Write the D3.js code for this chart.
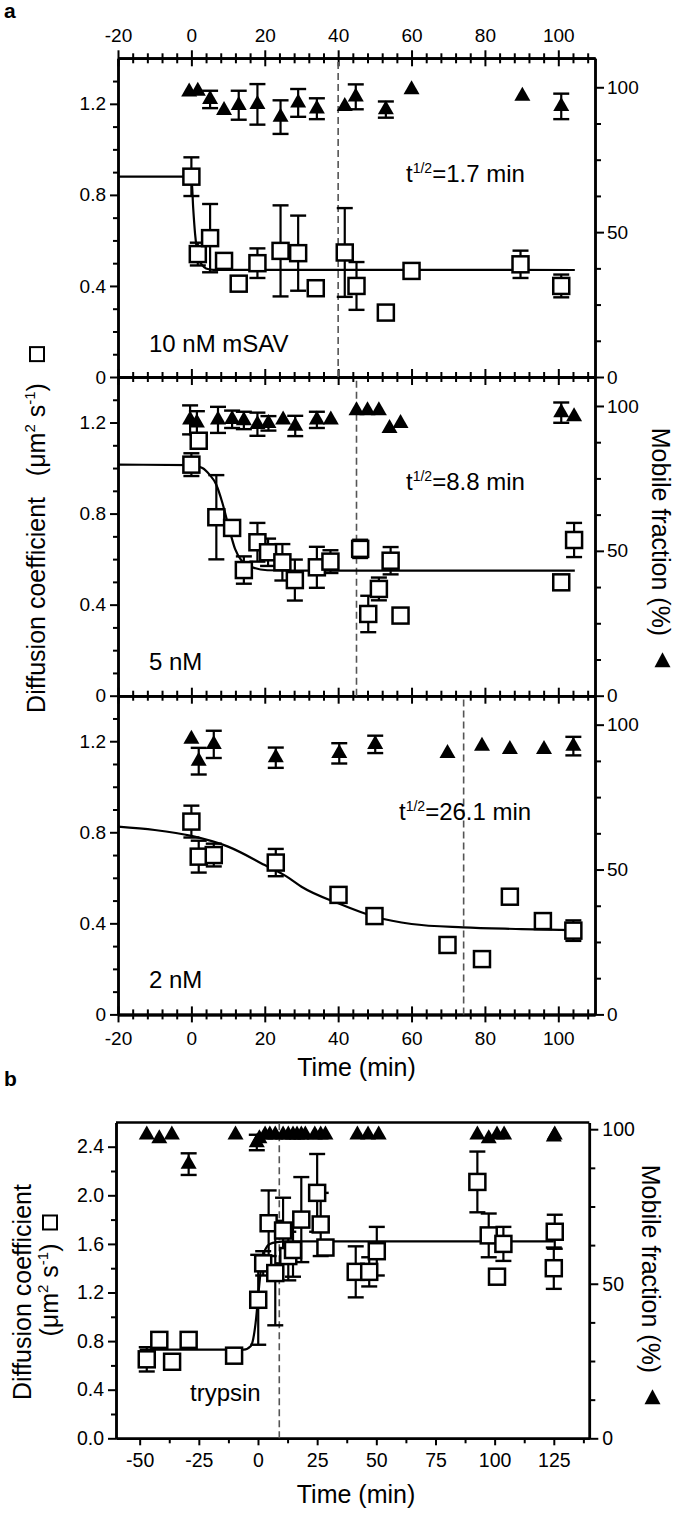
<!DOCTYPE html>
<html><head><meta charset="utf-8">
<script src="https://cdn.jsdelivr.net/npm/d3@7"></script>
<style>
body{margin:0;background:#fff}
svg{display:block}
text{font-family:"Liberation Sans",Arial,Helvetica,sans-serif;fill:#000;white-space:pre}
</style></head><body>
<svg id="c" width="675" height="1514"></svg>
<script>
// ---------------- DATA ----------------
// Panel a, 10 nM mSAV
const p1SqT = [0, 1.75, 5.1, 8.9, 12.9, 18, 24.3, 29.1, 33.9, 41.8, 45, 53, 60, 89.7, 100.8];
const p1SqD = [0.88, 0.54, 0.61, 0.51, 0.41, 0.50, 0.554, 0.544, 0.39, 0.547, 0.40, 0.283, 0.466, 0.495, 0.40];
const p1SqE = [0.085, 0.05, 0.15, 0, 0, 0.065, 0.2, 0.165, 0, 0.195, 0.105, 0, 0, 0.06, 0.05];
const p1TrT = [-0.6, 1.75, 5.1, 8.9, 12.9, 18, 24.3, 29.1, 34.2, 41.8, 44.8, 53, 60, 90.2, 100.8];
const p1TrM = [98.4, 98.7, 95.8, 92, 93.8, 94.1, 89.7, 94.6, 92.6, 93.4, 96.7, 92.3, 99.2, 97, 93.4];
const p1TrE = [0, 0, 3, 0, 5, 7, 5.8, 4.8, 3.6, 0, 4.3, 2.8, 0, 0, 4.4];
const p1FitT = [-20, 0, 0.5, 1, 1.5, 2, 3, 4, 6, 104.5];
const p1FitD = [0.88, 0.88, 0.74, 0.63, 0.56, 0.52, 0.49, 0.477, 0.471, 0.47];
// Panel a, 5 nM
const p2SqT = [0, 2, 6.8, 11.1, 14.3, 18, 20.9, 24.8, 28.2, 34.2, 37.9, 46, 48.2, 51.1, 54.3, 57, 100.8, 104.3];
const p2SqD = [1.015, 1.12, 0.784, 0.737, 0.552, 0.674, 0.63, 0.586, 0.508, 0.564, 0.589, 0.645, 0.359, 0.469, 0.593, 0.352, 0.498, 0.684];
const p2SqE = [0.05, 0.03, 0.185, 0, 0.06, 0.085, 0.06, 0.08, 0.09, 0.09, 0.05, 0.04, 0.08, 0.05, 0.06, 0, 0, 0.075];
const p2TrT = [-0.35, 1.5, 7.25, 11.1, 14.3, 18, 21, 25, 28.3, 34.2, 38, 45, 48, 51.1, 54, 57, 100.8, 104.3];
const p2TrM = [95.2, 94.2, 95.2, 95.4, 95, 93.7, 94, 95.2, 93.1, 95.2, 95.2, 98.4, 98.4, 98.4, 92.3, 94, 97.7, 96.3];
const p2TrE = [5, 4, 4.5, 3, 3, 4, 2.5, 0, 3.5, 2.8, 0, 0, 0, 0, 0, 0, 3.5, 0];
const p2FitT = [-20, 0, 3, 5, 6.7, 8.4, 10.2, 11.9, 13.7, 16.6, 20.7, 30, 104.5];
const p2FitD = [1.015, 1.013, 1.0, 0.97, 0.93, 0.85, 0.74, 0.645, 0.593, 0.564, 0.551, 0.549, 0.549];
// Panel a, 2 nM
const p3SqT = [0, 2, 6.1, 23, 40.1, 49.9, 69.8, 79.2, 86.8, 95.8, 104.1];
const p3SqD = [0.847, 0.693, 0.70, 0.667, 0.525, 0.432, 0.305, 0.243, 0.517, 0.41, 0.368];
const p3SqE = [0.07, 0.07, 0.05, 0.06, 0, 0, 0, 0, 0, 0, 0.045];
const p3TrT = [0, 2, 6.1, 23, 40.3, 50.1, 69.8, 79.2, 86.8, 96.1, 104.1];
const p3TrM = [95, 87.4, 93.2, 88.6, 90.1, 93.2, 90.1, 92.6, 91.5, 91.5, 92.6];
const p3TrE = [0, 4.6, 4.7, 3.5, 3.5, 3, 0, 0, 0, 0, 3.2];
const p3FitT = [-20, -10, 0, 10, 20, 26, 30, 40, 50, 60, 74, 90, 104];
const p3FitD = [0.825, 0.81, 0.784, 0.737, 0.656, 0.605, 0.561, 0.488, 0.429, 0.397, 0.382, 0.375, 0.37];

const aDashT = [40, 45, 74.2];
const aConcLabels = ["10 nM mSAV", "5 nM", "2 nM"];
const aHalfTimes = ["1.7", "8.8", "26.1"];

// Panel b, trypsin
const bSqT = [-47, -41.7, -36.3, -29.3, -10.1, 0.1, 2.2, 4.5, 7.3, 10.6, 12.8, 14.8, 18.3, 25, 26.5, 28.5, 41.3, 47, 50.2, 92.7, 97.5, 101, 103.7, 125, 125.4];
const bSqD = [0.65, 0.81, 0.63, 0.81, 0.68, 1.14, 1.44, 1.77, 1.36, 1.71, 1.50, 1.55, 1.80, 2.02, 1.76, 1.57, 1.37, 1.37, 1.54, 2.11, 1.67, 1.33, 1.60, 1.40, 1.70];
const bSqE = [0.1, 0, 0, 0, 0, 0.37, 0.1, 0.27, 0.43, 0.27, 0.2, 0.22, 0.35, 0.32, 0.26, 0.06, 0.21, 0.12, 0.2, 0.25, 0.18, 0, 0.14, 0.17, 0.14];
const bTrT = [-47, -41.7, -36.4, -29.3, -9.5, -0.5, 0.6, 3, 5, 7.3, 10.6, 12.8, 14.8, 16.5, 18.3, 20, 24, 26.5, 28.5, 42, 46.5, 51, 92.7, 97.5, 101, 104, 125, 125.4];
const bTrM = [98.2, 97, 98.2, 88.7, 98.2, 95.7, 97, 98.2, 98.2, 98.2, 98.2, 98.2, 98.2, 98.2, 98.2, 98.2, 98.2, 98.2, 98.2, 98.2, 98.2, 98.2, 98.2, 97, 98.2, 98.2, 97.5, 98.2];
const bTrE = [0, 0, 0, 3.5, 0, 2.5, 0, 0, 0, 0, 0, 0, 0, 0, 0, 0, 0, 0, 0, 0, 0, 0, 0, 0, 0, 0, 0, 0];
const bFitT = [-50, -6, -3, -2, -1, 0, 1, 2, 3, 5, 8, 12, 125];
const bFitD = [0.73, 0.73, 0.76, 0.82, 0.95, 1.15, 1.35, 1.48, 1.55, 1.60, 1.615, 1.62, 1.62];
const bDashT = 9;

// axis ticks
const aTimeMajor = [-20, 0, 20, 40, 60, 80, 100];
const aTimeMinor = [-16, -12, -8, -4, 4, 8, 12, 16, 24, 28, 32, 36, 44, 48, 52, 56, 64, 68, 72, 76, 84, 88, 92, 96, 104, 108];
const aDMajor = [0, 0.4, 0.8, 1.2];
const aDMinor = [0.1, 0.2, 0.3, 0.5, 0.6, 0.7, 0.9, 1.0, 1.1, 1.3];
const mfMajor = [0, 50, 100];
const mfMinor = [12.5, 25, 37.5, 62.5, 75, 87.5];
const bTimeMajor = [-50, -25, 0, 25, 50, 75, 100, 125];
const bTimeMinor = [-37.5, -12.5, 12.5, 37.5, 62.5, 87.5, 112.5, 137.5];
const bDMajor = [0, 0.4, 0.8, 1.2, 1.6, 2.0, 2.4];
const bDMinor = [0.2, 0.6, 1.0, 1.4, 1.8, 2.2];

// ---------------- DRAWING ----------------
const svg = d3.select("#c");
const FONT = '"Liberation Sans", Arial, Helvetica, sans-serif';
const intFmt = v => (v < 0 ? "-" : "") + Math.abs(v);

function addAxis(axisFn, scale, tx, ty, values, size, fmt, pad, fs) {
  const ax = axisFn(scale).tickValues(values).tickSizeInner(size).tickSizeOuter(0)
    .tickPadding(pad || 3).tickFormat(fmt || (() => ""));
  const g = svg.append("g").attr("transform", `translate(${tx},${ty})`).call(ax);
  g.select(".domain").attr("stroke-width", 2.5).attr("stroke", "#000");
  g.selectAll(".tick line").attr("stroke-width", 2).attr("stroke", "#000");
  g.selectAll("text").style("font-size", (fs || 19) + "px").style("font-family", FONT).attr("fill", "#000");
  return g;
}

const sqSize = 16, trW = 16, trH = 14, capW = 16;

function drawData(x, y, y2, d, dashT) {
  const g = svg.append("g");
  g.append("line").attr("x1", x(dashT)).attr("x2", x(dashT))
    .attr("y1", y.range()[0]).attr("y2", y.range()[1])
    .attr("stroke", "#555").attr("stroke-width", 1.6).attr("stroke-dasharray", "7,4");
  const line = d3.line().x(p => x(p[0])).y(p => y(p[1])).curve(d3.curveMonotoneX);
  g.append("path").datum(d3.zip(d.fitT, d.fitD)).attr("d", line)
    .attr("fill", "none").attr("stroke", "#000").attr("stroke-width", 2.2);
  function errs(T, V, E, sc) {
    d3.zip(T, V, E).filter(r => r[2] > 0).forEach(([t, v, e]) => {
      const cx = x(t), y1 = sc(v - e), y2v = sc(v + e);
      g.append("line").attr("x1", cx).attr("x2", cx).attr("y1", y1).attr("y2", y2v).attr("stroke", "#000").attr("stroke-width", 2.2);
      [y1, y2v].forEach(yy => g.append("line").attr("x1", cx - capW / 2).attr("x2", cx + capW / 2)
        .attr("y1", yy).attr("y2", yy).attr("stroke", "#000").attr("stroke-width", 2.4));
    });
  }
  errs(d.sqT, d.sqD, d.sqE, y);
  errs(d.trT, d.trM, d.trE, y2);
  g.selectAll(null).data(d3.zip(d.sqT, d.sqD)).join("rect")
    .attr("x", r => x(r[0]) - sqSize / 2).attr("y", r => y(r[1]) - sqSize / 2)
    .attr("width", sqSize).attr("height", sqSize)
    .attr("fill", "#fff").attr("stroke", "#000").attr("stroke-width", 2.5);
  g.selectAll(null).data(d3.zip(d.trT, d.trM)).join("path")
    .attr("d", r => {
      const cx = x(r[0]), cy = y2(r[1]);
      return `M${cx},${cy - trH * 2 / 3}L${cx + trW / 2},${cy + trH / 3}L${cx - trW / 2},${cy + trH / 3}Z`;
    }).attr("fill", "#000");
}

// rotated title with trailing symbol (square or triangle) drawn as a shape
function rotTitle(cx, cy, angle, build, symbol, gap) {
  const g = svg.append("g").attr("transform", `translate(${cx},${cy}) rotate(${angle})`);
  const t = g.append("text").attr("x", 0).attr("y", 0).style("font-size", "25px");
  build(t);
  const w = t.node().getBBox().width;
  const s = 16;
  const total = w + (symbol ? gap + s : 0);
  t.attr("x", -total / 2);
  const sx = -total / 2 + w + gap;
  if (symbol === "square") {
    g.append("rect").attr("x", sx).attr("y", -15).attr("width", s - 2).attr("height", s - 2)
      .attr("fill", "#fff").attr("stroke", "#000").attr("stroke-width", 2);
  } else if (symbol === "triangle") {
    g.append("path").attr("d", `M${sx},${-10.5}L${sx + 15},${-18.5}L${sx + 15},${-2.5}Z`).attr("fill", "#000");
  }
}
function unitSpans(t) {
  t.append("tspan").text("(μm");
  t.append("tspan").attr("dy", -10).style("font-size", "15px").text("2");
  t.append("tspan").attr("dy", 10).text(" s");
  t.append("tspan").attr("dy", -10).style("font-size", "15px").text("-1");
  t.append("tspan").attr("dy", 10).text(")");
}

// ---- Panel a ----
const aLeft = 118, aRight = 595, aTop = 58.3, aH = 318.7;
const xA = d3.scaleLinear().domain([-20, 110]).range([aLeft, aRight]);
const panelData = [
  {sqT: p1SqT, sqD: p1SqD, sqE: p1SqE, trT: p1TrT, trM: p1TrM, trE: p1TrE, fitT: p1FitT, fitD: p1FitD},
  {sqT: p2SqT, sqD: p2SqD, sqE: p2SqE, trT: p2TrT, trM: p2TrM, trE: p2TrE, fitT: p2FitT, fitD: p2FitD},
  {sqT: p3SqT, sqD: p3SqD, sqE: p3SqE, trT: p3TrT, trM: p3TrM, trE: p3TrE, fitT: p3FitT, fitD: p3FitD}
];
const fmtA = v => v === 0 ? "0" : d3.format(".1f")(v);
const labelY = [352, 670, 988];
const thalfY = [182, 490, 820];
const thalfX = [406, 406, 399];

for (let k = 0; k <= 3; k++) {
  const yy = aTop + aH * k;
  addAxis(d3.axisTop, xA, 0, yy, aTimeMinor, 5);
  addAxis(d3.axisBottom, xA, 0, yy, aTimeMinor, 5);
  if (k === 0) addAxis(d3.axisTop, xA, 0, yy, aTimeMajor, 8, intFmt, 8, 19);
  else addAxis(d3.axisTop, xA, 0, yy, aTimeMajor, 8);
  if (k === 3) addAxis(d3.axisBottom, xA, 0, yy, aTimeMajor, 8, intFmt, 9, 19);
  else addAxis(d3.axisBottom, xA, 0, yy, aTimeMajor, 8);
}

panelData.forEach((d, i) => {
  const y0 = aTop + aH * (i + 1);
  const y = d3.scaleLinear().domain([0, 1.4]).range([y0, y0 - aH]);
  const y2 = d3.scaleLinear().domain([0, 110]).range([y0, y0 - aH]);
  addAxis(d3.axisLeft, y, aLeft, 0, aDMinor, 5);
  addAxis(d3.axisLeft, y, aLeft, 0, aDMajor, 8, fmtA, 4, 19);
  addAxis(d3.axisRight, y2, aRight, 0, mfMinor, 6);
  addAxis(d3.axisRight, y2, aRight, 0, mfMajor, 9, intFmt, 3, 19);
  drawData(xA, y, y2, d, aDashT[i]);
  svg.append("text").attr("x", 149).attr("y", labelY[i]).style("font-size", "24px").text(aConcLabels[i]);
  const t = svg.append("text").attr("x", thalfX[i]).attr("y", thalfY[i]).style("font-size", "24px");
  t.append("tspan").text("t");
  t.append("tspan").attr("dy", -9).style("font-size", "14px").text("1/2");
  t.append("tspan").attr("dy", 9).text("=" + aHalfTimes[i] + " min");
});
svg.append("text").attr("x", (aLeft + aRight) / 2).attr("y", 1076).attr("text-anchor", "middle")
  .style("font-size", "25px").text("Time (min)");

rotTitle(45, 529, -90, t => {
  t.append("tspan").text("Diffusion coefficient");
  t.append("tspan").text("   ");
  unitSpans(t);
}, "square", 22);
rotTitle(652, 548, 90, t => t.append("tspan").text("Mobile fraction (%)"), "triangle", 16);

// ---- Panel b ----
const bLeft = 116, bRight = 589.3, bBottom = 1438.3;
const xB = d3.scaleLinear().domain([-60, 140]).range([bLeft, bRight]);
const yB = d3.scaleLinear().domain([0, 2.6]).range([bBottom, bBottom - 2.6 * 121.5]);
const y2B = d3.scaleLinear().domain([0, 102.2]).range([bBottom, bBottom - 2.6 * 121.5]);
svg.append("line").attr("x1", bLeft).attr("x2", bRight).attr("y1", yB(2.6)).attr("y2", yB(2.6))
  .attr("stroke", "#000").attr("stroke-width", 2.5);
addAxis(d3.axisBottom, xB, 0, bBottom, bTimeMinor, 5);
addAxis(d3.axisBottom, xB, 0, bBottom, bTimeMajor, 7, intFmt, 8, 19.5);
addAxis(d3.axisLeft, yB, bLeft, 0, bDMinor, 5);
addAxis(d3.axisLeft, yB, bLeft, 0, bDMajor, 8, d3.format(".1f"), 4, 19.5);
addAxis(d3.axisRight, y2B, bRight, 0, mfMinor, 6);
addAxis(d3.axisRight, y2B, bRight, 0, mfMajor, 9, intFmt, 4, 19.5);
drawData(xB, yB, y2B, {sqT: bSqT, sqD: bSqD, sqE: bSqE, trT: bTrT, trM: bTrM, trE: bTrE, fitT: bFitT, fitD: bFitD}, bDashT);
svg.append("text").attr("x", 190).attr("y", 1401).style("font-size", "24px").text("trypsin");
svg.append("text").attr("x", 356).attr("y", 1503).attr("text-anchor", "middle")
  .style("font-size", "25px").text("Time (min)");
rotTitle(31, 1292, -90, t => t.append("tspan").text("Diffusion coefficient"), null, 0);
rotTitle(58, 1275, -90, unitSpans, "square", 14);
rotTitle(642, 1285, 90, t => t.append("tspan").text("Mobile fraction (%)"), "triangle", 16);

svg.append("text").attr("x", 4).attr("y", 18).style("font-size", "21px").style("font-weight", "bold").text("a");
svg.append("text").attr("x", 4).attr("y", 1086).style("font-size", "21px").style("font-weight", "bold").text("b");
</script></body></html>
